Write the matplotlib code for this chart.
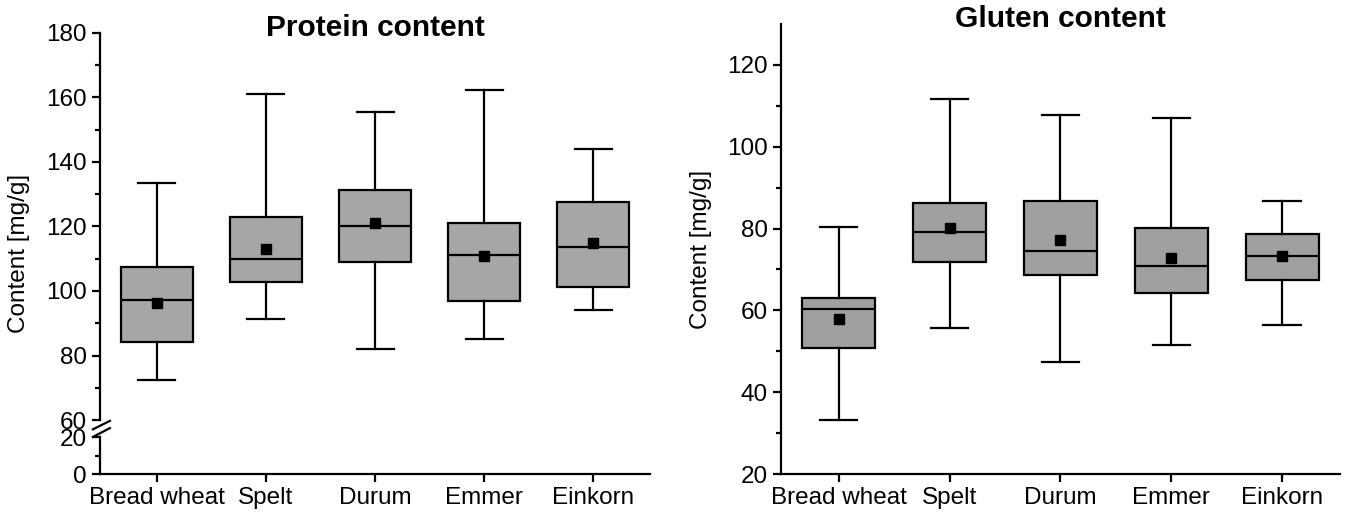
import numpy as np
import matplotlib
matplotlib.use("Agg")
from matplotlib import pyplot as plt

plt.rcParams['font.family'] = ['Liberation Sans', 'DejaVu Sans']

categories = ["Bread wheat", "Spelt", "Durum", "Emmer", "Einkorn"]

# Protein content [mg/g]
prot_whislo = [72.5, 91.3, 82.1, 85.0, 94.1]
prot_q1 = [84.1, 102.7, 108.9, 96.8, 101.2]
prot_med = [97.3, 110.0, 120.2, 111.1, 113.7]
prot_mean = [96.2, 113.0, 121.0, 110.9, 114.9]
prot_q3 = [107.4, 122.9, 131.3, 121.0, 127.6]
prot_whishi = [133.6, 161.1, 155.4, 162.2, 144.1]

# Gluten content [mg/g]
glu_whislo = [33.2, 55.7, 47.5, 51.5, 56.4]
glu_q1 = [50.8, 71.9, 68.7, 64.3, 67.5]
glu_med = [60.3, 79.1, 74.6, 70.9, 73.4]
glu_mean = [57.8, 80.1, 77.3, 72.9, 73.4]
glu_q3 = [63.1, 86.2, 86.7, 80.1, 78.6]
glu_whishi = [80.5, 111.7, 107.7, 107.1, 86.7]


def make_stats(lo, q1, med, mean, q3, hi):
    stats = []
    for i in range(len(categories)):
        stats.append(dict(whislo=lo[i], q1=q1[i], med=med[i], mean=mean[i],
                          q3=q3[i], whishi=hi[i], fliers=[], label=categories[i]))
    return stats


def draw_boxes(ax, stats, color):
    lw = 1.6
    ax.bxp(stats, positions=range(1, 6), widths=0.66, patch_artist=True,
           showmeans=True, showfliers=False,
           boxprops=dict(facecolor=color, edgecolor='black', linewidth=lw),
           medianprops=dict(color='black', linewidth=lw),
           whiskerprops=dict(color='black', linewidth=lw),
           capprops=dict(color='black', linewidth=lw),
           capwidths=0.34,
           meanprops=dict(marker='s', markerfacecolor='black', markeredgecolor='black',
                          markersize=7))


def style_axes(ax):
    ax.spines['top'].set_visible(False)
    ax.spines['right'].set_visible(False)
    ax.spines['left'].set_linewidth(1.6)
    ax.spines['bottom'].set_linewidth(1.6)
    ax.tick_params(axis='both', which='major', direction='out', length=6, width=1.6,
                   labelsize=17.5)
    ax.tick_params(axis='y', which='minor', direction='out', length=3.5, width=1.6)
    ax.set_xlim(0.48, 5.52)
    ax.set_ylabel("Content [mg/g]", fontsize=17.5)


fig = plt.figure(figsize=(13.46, 5.15), dpi=100)

# left panel, broken y axis (0-20 and 60-180)
ax1 = fig.add_axes([0.0743, 0.0796, 0.4087, 0.8564])
brk_in = [0, 20, 60, 180]
brk_out = [0, 11.47, 16.74, 136.74]
ax1.set_yscale('function', functions=(lambda y: np.interp(y, brk_in, brk_out),
                                      lambda y: np.interp(y, brk_out, brk_in)))
draw_boxes(ax1, make_stats(prot_whislo, prot_q1, prot_med, prot_mean, prot_q3, prot_whishi),
           '#a6a6a6')
style_axes(ax1)
ax1.set_ylim(0, 180)
ax1.set_yticks([0, 20, 60, 80, 100, 120, 140, 160, 180])
ax1.set_yticks([10, 70, 90, 110, 130, 150, 170], minor=True)
ax1.yaxis.set_label_coords(-0.128, 0.5)
fig.text(0.2786, 1 - 28 / 515, "Protein content", fontsize=21.5, fontweight='bold',
         ha='center', va='center')

# break marks on the y axis
tr = ax1.get_yaxis_transform()
ax1.plot([0, 0], [29, 51], color='white', linewidth=4, transform=tr, clip_on=False, zorder=5)
ax1.plot([-0.013, 0.018], [38, 58], color='black', linewidth=1.6, transform=tr,
         clip_on=False, zorder=6)
ax1.plot([-0.013, 0.018], [20, 41], color='black', linewidth=1.6, transform=tr,
         clip_on=False, zorder=6)

# right panel
ax2 = fig.add_axes([0.5802, 0.0796, 0.4153, 0.8738])
draw_boxes(ax2, make_stats(glu_whislo, glu_q1, glu_med, glu_mean, glu_q3, glu_whishi),
           '#a0a0a0')
style_axes(ax2)
ax2.set_ylim(20, 130)
ax2.set_yticks([20, 40, 60, 80, 100, 120])
ax2.set_yticks([30, 50, 70, 90, 110], minor=True)
ax2.yaxis.set_label_coords(-0.123, 0.5)
fig.text(0.7877, 1 - 19 / 515, "Gluten content", fontsize=21.5, fontweight='bold',
         ha='center', va='center')

fig.savefig("out.png", dpi=100)
